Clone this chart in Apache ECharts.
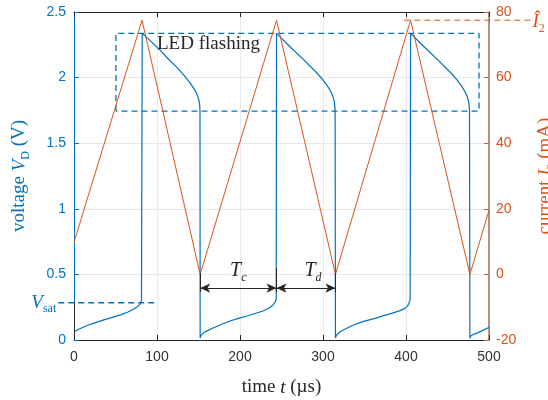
<!DOCTYPE html>
<html><head><meta charset="utf-8">
<script src="https://cdn.jsdelivr.net/npm/echarts@6/dist/echarts.min.js"></script>
<style>html,body{margin:0;padding:0;background:#fff;overflow:hidden}#c{width:548px;height:400px}</style>
</head><body><div id="c"></div>
<script>
// ---- data ----
const voltT = [0,5,15,25,35,45,55,65,71.5,76,79.5,81.3,82,
  82.2,92,103.6,114,123.7,132,139.8,145,147.8,150,151.3,151.8,
  152,153,157,167.5,178,188,198,208.4,218,227.7,234,239.8,242.5,243.6,
  244,260.2,276.3,292.4,299,304.4,308,310.4,312.3,313.6,314.6,
  315,316,320.5,334.6,348,362.7,372,382.7,392,398.8,402,403.6,405,
  405.5,421.7,437.8,453.9,460.5,466,469.5,472,474,475.5,476.5,
  477,478,482,487,493,499,500];
const voltV = [0.063,0.08,0.109,0.131,0.152,0.171,0.19,0.213,0.234,0.252,0.274,0.295,0.31,
  2.337,2.28,2.21,2.14,2.08,2.02,1.96,1.91,1.88,1.84,1.80,1.75,
  0.015,0.035,0.06,0.091,0.12,0.145,0.165,0.183,0.202,0.221,0.24,0.267,0.29,0.31,
  2.337,2.235,2.139,2.037,1.99,1.944,1.91,1.88,1.85,1.817,1.76,
  0.015,0.035,0.063,0.109,0.14,0.165,0.184,0.203,0.222,0.241,0.26,0.28,0.31,
  2.337,2.235,2.139,2.037,1.99,1.944,1.91,1.88,1.85,1.817,1.76,
  0.013,0.03,0.045,0.056,0.075,0.094,0.097];
const currT = [0,82,152,244,315,405.5,477,500];
const currI = [9.8,77.5,0,77.5,0,77.5,0,19.5];
const xTicks = {min:0, max:500, step:100};
const vTicks = {min:0, max:2.5, step:0.5};
const iTicks = {min:-20, max:80, step:20};
// annotation anchors (data units)
const ledBoxT = [50.5, 488];
const ledBoxV = [1.745, 2.337];
const vsatT = [-19, 97];
const vsatV = 0.284;
const i2T = [398, 550];
const i2I = 77.5;
const edgeT = [152, 244, 315];
const edgeTop = [0.51, 0.55, 0.51];
const arrowV = 0.396;
const edgeBottom = 0.366;
const tcLabel = [198, 0.53];
const tdLabel = [288, 0.53];
const ledLabel = [162, 2.255];

// ---- build ----
const C_BLUE = '#0072BD', C_ORANGE = '#D95319', C_DARK = '#262626';
const serif = 'Liberation Serif';
const sans = 'Liberation Sans';
const voltData = voltT.map((t,i)=>[t, voltV[i]]);
const currData = currT.map((t,i)=>[t, currI[i]]);
const boxData = [[ledBoxT[0],ledBoxV[0]],[ledBoxT[0],ledBoxV[1]],[ledBoxT[1],ledBoxV[1]],[ledBoxT[1],ledBoxV[0]],[ledBoxT[0],ledBoxV[0]]];

const richBase = (color, size, key) => {
  key = key || 'color';
  const sub = Math.round(size*0.62);
  const mk = o => { o[key] = color; return o; };
  return {
    a: mk({fontFamily:serif,fontSize:size,lineHeight:size+6,verticalAlign:'middle'}),
    i: mk({fontFamily:serif,fontSize:size,fontStyle:'italic',lineHeight:size+6,verticalAlign:'middle'}),
    s: mk({fontFamily:serif,fontSize:sub,lineHeight:sub,verticalAlign:'bottom'}),
    si: mk({fontFamily:serif,fontSize:sub,fontStyle:'italic',lineHeight:sub,verticalAlign:'bottom'})
  };
};

const chart = echarts.init(document.getElementById('c'), null, {renderer:'canvas'});
const option = {
  animation:false,
  backgroundColor:'#fff',
  grid:{left:74, right:59, top:12, bottom:60, containLabel:false, outerBoundsMode:'none'},
  xAxis:[{
    type:'value', min:xTicks.min, max:xTicks.max, interval:xTicks.step,
    axisLine:{onZero:false,lineStyle:{color:C_DARK,width:1}},
    axisTick:{inside:true,length:5,lineStyle:{color:C_DARK}},
    axisLabel:{color:'#333',fontFamily:sans,fontSize:14,margin:10},
    splitLine:{show:true,lineStyle:{color:'#e8e8ef',width:1}},
    name:'{a|time }{i|t}{a| (µs)}', nameLocation:'middle', nameGap:35,
    nameTextStyle:{rich:richBase(C_DARK,19)}
  },{
    type:'value', position:'top', min:xTicks.min, max:xTicks.max, interval:xTicks.step,
    axisLine:{show:true,onZero:false,lineStyle:{color:C_DARK,width:1}},
    axisTick:{show:true,inside:true,length:5,lineStyle:{color:C_DARK}},
    axisLabel:{show:false}, splitLine:{show:false}
  }],
  yAxis:[{
    type:'value', min:vTicks.min, max:vTicks.max, interval:vTicks.step,
    axisLine:{show:true,onZero:false,lineStyle:{color:C_BLUE,width:1}},
    axisTick:{show:true,inside:true,length:5,lineStyle:{color:C_BLUE}},
    axisLabel:{color:C_BLUE,fontFamily:sans,fontSize:14,margin:8},
    splitLine:{show:true,lineStyle:{color:'#e8e8ef',width:1}},
    name:'{a|voltage }{i|V}{s|D}{a| (V)}', nameLocation:'middle', nameGap:42, nameRotate:90,
    nameTextStyle:{rich:richBase(C_BLUE,19)}
  },{
    type:'value', position:'right', min:iTicks.min, max:iTicks.max, interval:iTicks.step,
    axisLine:{show:true,onZero:false,lineStyle:{color:'#a56c5e',width:1.5}},
    axisTick:{show:true,inside:true,length:5,lineStyle:{color:'#a56c5e'}},
    axisLabel:{color:C_ORANGE,fontFamily:sans,fontSize:14,margin:7},
    splitLine:{show:false},
    name:'{a|current }{i|I}{s|2}{a| (mA)}', nameLocation:'middle', nameGap:44, nameRotate:90,
    nameTextStyle:{rich:richBase(C_ORANGE,19)}
  }],
  series:[
    {type:'line', name:'V', data:voltData, yAxisIndex:0, showSymbol:false, symbol:'none',
     lineStyle:{color:C_BLUE,width:1.2}, z:3},
    {type:'line', name:'I', data:currData, yAxisIndex:1, showSymbol:false, symbol:'none',
     lineStyle:{color:C_ORANGE,width:1}, z:4},
    {type:'line', name:'box', data:boxData, yAxisIndex:0, symbol:'none', clip:false,
     lineStyle:{color:C_BLUE,width:1.3,type:[6,4]}, z:2},
    {type:'line', name:'annot', data:[], yAxisIndex:0, symbol:'none',
     markLine:{silent:true, animation:false,
       symbol:['arrow','arrow'], symbolSize:[7,10],
       label:{show:false}, lineStyle:{color:C_DARK,type:'solid',width:1},
       data:[
         [{coord:[edgeT[0],arrowV]},{coord:[edgeT[1],arrowV]}],
         [{coord:[edgeT[1],arrowV]},{coord:[edgeT[2],arrowV]}],
         ...edgeT.map((t,k)=>[{coord:[t,edgeTop[k]],symbol:'none'},{coord:[t,edgeBottom],symbol:'none'}]),
         [{coord:[0,0],symbol:'none'},{coord:[0,vsatV],symbol:'none'}]
       ]},
     markPoint:{symbol:'circle',symbolSize:0,silent:true,
       data:[
         {coord:tcLabel,label:{show:true,position:'inside',formatter:'{i|T}{si|c}',rich:richBase(C_DARK,20)}},
         {coord:tdLabel,label:{show:true,position:'inside',formatter:'{i|T}{si|d}',rich:richBase(C_DARK,20)}},
         {coord:ledLabel,label:{show:true,position:'inside',formatter:'{a|LED flashing}',rich:richBase(C_DARK,19)}}
       ]}}
  ]
};
chart.setOption(option);

// annotations that reach outside the plot area: placed through the axes' own scales
const pV = p => chart.convertToPixel({xAxisIndex:0, yAxisIndex:0}, p);
const pI = p => chart.convertToPixel({xAxisIndex:0, yAxisIndex:1}, p);
const vs0 = pV([vsatT[0], vsatV]), vs1 = pV([vsatT[1], vsatV]);
const i20 = pI([i2T[0], i2I]), i21 = pI([i2T[1], i2I]);
chart.setOption({graphic:[
  {type:'line', shape:{x1:vs0[0],y1:vs0[1],x2:vs1[0],y2:vs1[1]}, z:10,
   style:{stroke:C_BLUE,lineWidth:1.3,lineDash:[6,4]}},
  {type:'text', x:vs0[0]-2, y:vs0[1], z:10,
   style:{text:'{i|V}{s|sat}', rich:richBase(C_BLUE,19,'fill'), fill:C_BLUE, align:'right', verticalAlign:'middle'}},
  {type:'line', shape:{x1:i20[0],y1:i20[1],x2:i21[0],y2:i21[1]}, z:10,
   style:{stroke:C_ORANGE,lineWidth:1,lineDash:[6,4]}},
  {type:'text', x:i21[0]+2, y:i21[1]+2, z:10,
   style:{text:'{i|Î}{s|2}', rich:richBase(C_ORANGE,19,'fill'), fill:C_ORANGE, align:'left', verticalAlign:'middle'}}
]});
</script></body></html>
